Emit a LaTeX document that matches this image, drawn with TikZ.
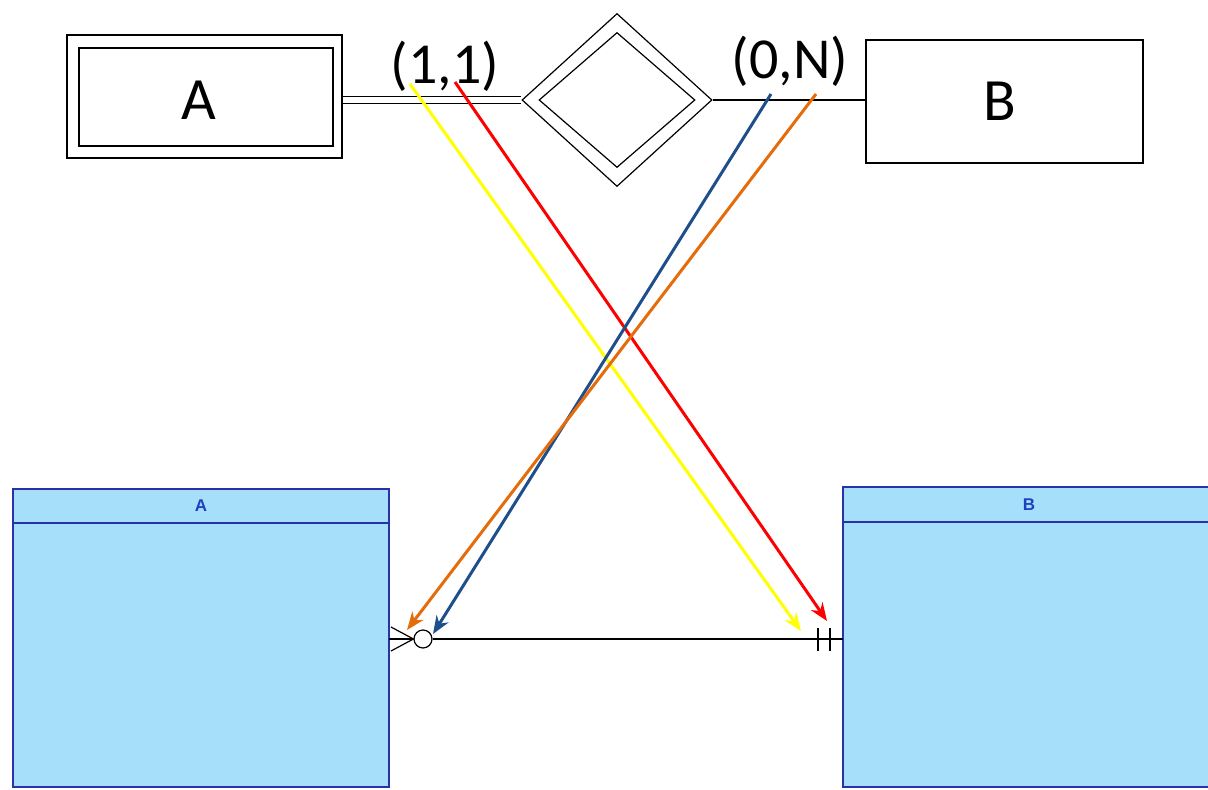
\documentclass[tikz,border=0pt]{standalone}
\usepackage{fontspec}
\setmainfont{Carlito}
\newfontfamily\tabfont{Liberation Sans}
\usetikzlibrary{shapes.geometric,arrows.meta}
\definecolor{tabfill}{HTML}{A6DFF9}
\definecolor{tabline}{HTML}{2A32A8}
\definecolor{tabtext}{HTML}{2040C0}
\definecolor{ayellow}{HTML}{FFFF00}
\definecolor{ared}{HTML}{FF0000}
\definecolor{ablue}{HTML}{1F4E8C}
\definecolor{aorange}{HTML}{E46C0A}
\tikzset{
  ent/.style={draw=black, line width=0.6pt, inner sep=0pt},
  entname/.style={inner sep=0pt, font=\fontsize{30}{32}\selectfont},
  rel/.style={draw=black, line width=0.6pt, shape=diamond, inner sep=0pt},
  card/.style={font=\fontsize{29}{31}\selectfont, inner sep=0pt},
  tabbody/.style={draw=tabline, fill=tabfill, line width=0.8pt, inner sep=0pt},
  tabhead/.style={draw=tabline, fill=tabfill, line width=0.8pt, inner sep=0pt, text=tabtext, font=\tabfont\fontsize{8.5}{9}\selectfont},
  map/.style={line width=1.5pt, -{Stealth[length=9pt,width=7pt]}},
  erline/.style={draw=black, line width=0.6pt}
}
\begin{document}
\begin{tikzpicture}[x=0.5pt,y=-0.5pt]
\useasboundingbox (0,0) rectangle (1208,790);
\clip (0,0) rectangle (1208,790);
% ER diagram (top)
\node[ent, minimum width=137.5pt, minimum height=61.5pt] (Ao) at (204.5,96.5) {};
\node[ent, minimum width=127pt, minimum height=49pt] (Ai) at (206,97) {};
\node[entname] (An) at (199,100) {A};
\node[ent, minimum width=138.5pt, minimum height=61.5pt] (B) at (1004.5,101.5) {};
\node[entname] (Bn) at (1000,101) {B};
\node[rel, minimum width=95pt, minimum height=86.5pt] (D) at (617,100) {};
\node[rel, minimum width=78pt, minimum height=67.5pt] (Di) at (617,100) {};
\draw[black, line width=0.5pt, double, double distance=3pt] (D.west -| Ao.east) -- (D.west);
\draw[black, line width=0.6pt] (D.east) -- (D.east -| B.west);
\node[card] (c11) at (445,66) {(1,1)};
\node[card] (c0N) at (790,61) {(0,N)};
% Relational tables (bottom)
\node[tabbody, minimum width=188pt, minimum height=149pt] (TA) at (201,638) {};
\node[tabhead, minimum width=188pt, minimum height=17pt] (TAh) at (201,506) {\textbf{A}};
\node[tabbody, minimum width=186pt, minimum height=150pt] (TB) at (1029,637) {};
\node[tabhead, minimum width=186pt, minimum height=17.5pt] (TBh) at (1029,504.5) {\textbf{B}};
% relationship line with crow's foot notation
\coordinate (ca) at (389,639);
\coordinate (cb) at (843,639);
\node[draw=black, line width=0.6pt, circle, minimum size=9pt, inner sep=0pt] (zero) at (423,639) {};
\draw[erline] (zero.east) -- (cb);
\draw[erline] (ca) -- (zero.west);
\draw[erline] (391,627) -- (zero.west) -- (391,651);
\draw[erline, line width=0.9pt] (818,628) -- (818,651);
\draw[erline, line width=0.9pt] (830,628) -- (830,651);
% mapping arrows
\coordinate (y1) at (410,84);
\coordinate (y2) at (801,631);
\coordinate (r1) at (455,82);
\coordinate (r2) at (827,621);
\coordinate (b1) at (771,94);
\coordinate (b2) at (433,634);
\coordinate (o1) at (816,94);
\coordinate (o2) at (407,630);
\draw[map, ayellow] (y1) -- (y2);
\draw[map, ared] (r1) -- (r2);
\draw[map, ablue] (b1) -- (b2);
\draw[map, aorange] (o1) -- (o2);
\end{tikzpicture}
\end{document}
